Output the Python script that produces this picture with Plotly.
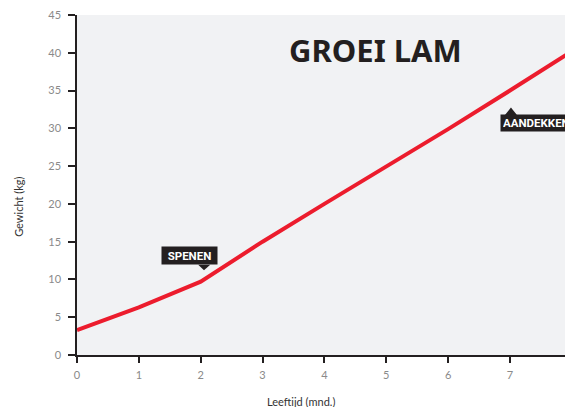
import plotly.graph_objects as go

# Data
months = [0, 1, 2, 3, 4, 5, 6, 7, 8]
weight_kg = [3.3, 6.3, 9.7, 15.0, 20.0, 24.9, 29.9, 35.0, 40.2]
x_ticks = [0, 1, 2, 3, 4, 5, 6, 7]
y_ticks = [0, 5, 10, 15, 20, 25, 30, 35, 40, 45]
events = ["SPENEN", "AANDEKKEN"]
event_months = [2, 7]
event_weights = [9.7, 35.0]

RED = "#ec1c2d"
DARK = "#231f20"
FONT = "Lato"
LABEL_FONT = "Roboto"
TITLE_FONT = "Noto Sans"

fig = go.Figure()
fig.add_trace(go.Scatter(x=months, y=weight_kg, mode="lines",
                         line=dict(color=RED, width=4), hoverinfo="skip",
                         showlegend=False))

# Event labels
fig.add_annotation(x=event_months[0], y=event_weights[0], xref="x", yref="y",
                   text="<b>" + events[0] + "</b>", showarrow=False,
                   xshift=-11, yshift=26, bgcolor=DARK, borderpad=2, width=51, height=13,
                   font=dict(family=LABEL_FONT, size=11.5, color="white"))
fig.add_shape(type="path", xref="x", yref="y", xsizemode="pixel", ysizemode="pixel",
              xanchor=event_months[0], yanchor=event_weights[0],
              path="M -2.5,17 L 9.5,17 L 3.3,11.5 Z",
              fillcolor=DARK, line=dict(width=0))
fig.add_annotation(x=event_months[1], y=event_weights[1], xref="x", yref="y",
                   text="<b>" + events[1] + "</b>", showarrow=False,
                   xanchor="left", xshift=-10, yshift=-32, bgcolor=DARK, borderpad=2,
                   height=12, width=74, align="left",
                   font=dict(family=LABEL_FONT, size=11.5, color="white"))
fig.add_shape(type="path", xref="x", yref="y", xsizemode="pixel", ysizemode="pixel",
              xanchor=event_months[1], yanchor=event_weights[1],
              path="M -5,-24.5 L 7,-24.5 L 1,-17 Z",
              fillcolor=DARK, line=dict(width=0))

# Title
fig.add_annotation(x=0.6125, y=0.898, xref="paper", yref="paper",
                   text="<b>GROEI LAM</b>", showarrow=False,
                   xanchor="center", yanchor="middle",
                   font=dict(family=TITLE_FONT, size=31, color=DARK))

# Axis titles
fig.add_annotation(x=0.4586, y=-0.137, xref="paper", yref="paper",
                   text="Leeftijd (mnd.)", showarrow=False,
                   xanchor="center", yanchor="middle",
                   font=dict(family=FONT, size=11, color="#333333"))
fig.add_annotation(x=-0.12, y=0.437, xref="paper", yref="paper",
                   text="Gewicht (kg)", showarrow=False, textangle=-90,
                   xanchor="center", yanchor="middle",
                   font=dict(family=FONT, size=11, color="#333333"))

fig.update_xaxes(range=[0, 7.89], tickvals=x_ticks, ticktext=[str(v) for v in x_ticks],
                 showgrid=False, zeroline=False, showline=True, linecolor=DARK,
                 linewidth=1.5, ticks="outside", ticklen=6, tickwidth=1.5,
                 tickcolor=DARK, automargin=False, ticklabelstandoff=3,
                 tickfont=dict(family=FONT, size=11, color="#8a8a8a"))
fig.update_yaxes(range=[0, 45], tickvals=y_ticks, ticktext=[str(v) for v in y_ticks],
                 showgrid=False, zeroline=False, showline=True, linecolor=DARK,
                 linewidth=1.5, ticks="outside", ticklen=7, tickwidth=1.5,
                 tickcolor=DARK, automargin=False, ticklabelstandoff=5,
                 tickfont=dict(family=FONT, size=11, color="#8a8a8a"))

fig.update_layout(width=565, height=407, margin=dict(l=77, r=0, t=15, b=52),
                  plot_bgcolor="#f1f2f4", paper_bgcolor="white",
                  font=dict(family=FONT))

post = ("document.body.style.margin='0';document.body.style.padding='0';"
        "document.body.style.overflow='hidden';"
        "var gd=document.getElementById('{plot_id}');"
        "Plotly.relayout(gd,{width:565,height:407});")

fig.write_html("out.html", post_script=post,
               config={"responsive": False, "displayModeBar": False})
